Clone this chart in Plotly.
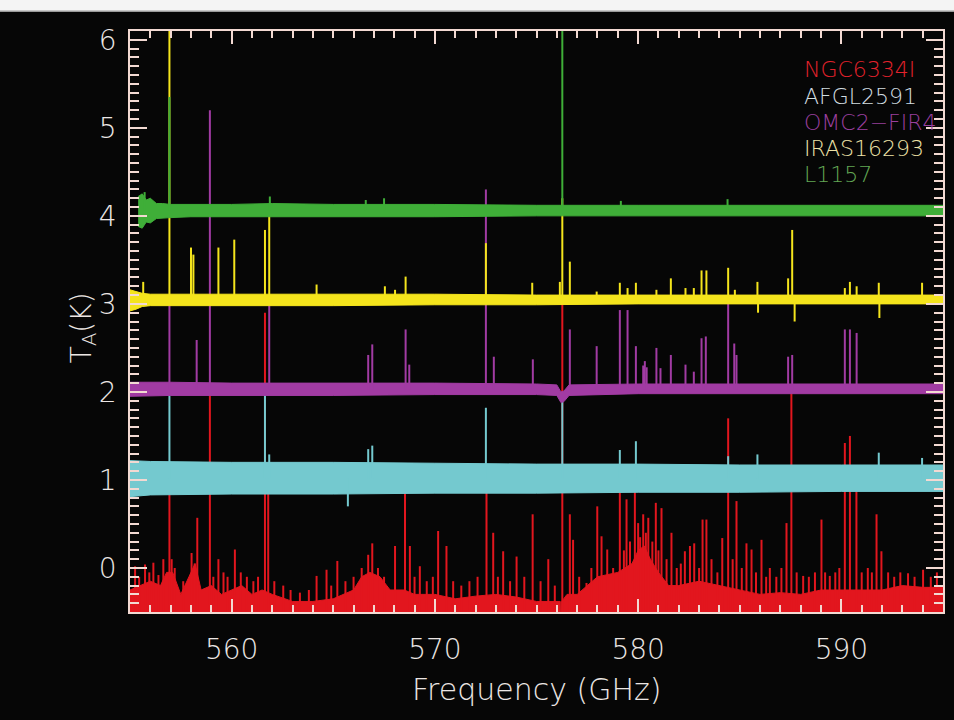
import plotly.graph_objects as go

# ---------------- spectra: baselines (noise envelopes) and lines ----------------
# L1157 (offset 4 K)
l1157_f = [555.4, 555.6, 555.8, 556.0, 556.3, 556.6, 557.0, 558, 560, 562, 565, 570, 575, 580, 585, 590, 595]
l1157_hi = [4.22, 4.25, 4.18, 4.20, 4.14, 4.14, 4.13, 4.13, 4.13, 4.14, 4.13, 4.13, 4.12, 4.12, 4.12, 4.12, 4.12]
l1157_lo = [3.88, 3.86, 3.93, 3.92, 3.97, 3.97, 3.98, 3.99, 3.99, 3.99, 3.99, 3.99, 4.00, 4.00, 4.00, 4.00, 4.00]
l1157_line_f = [555.72, 556.94, 561.88, 566.60, 567.50, 576.27, 579.15, 584.40]
l1157_line_t = [4.27, 5.35, 4.22, 4.18, 4.20, 6.40, 4.17, 4.19]

# IRAS16293 (offset 3 K)
iras_f = [555.0, 555.3, 555.6, 556.0, 557, 560, 565, 570, 575, 580, 585, 590, 595]
iras_hi = [3.16, 3.14, 3.12, 3.11, 3.11, 3.11, 3.11, 3.11, 3.10, 3.10, 3.10, 3.10, 3.10]
iras_lo = [2.92, 2.94, 2.97, 2.98, 2.98, 2.98, 2.98, 2.99, 2.99, 3.00, 3.00, 3.00, 3.00]
iras_line_f = [555.65, 556.94, 558.00, 558.12, 559.35, 560.13, 561.64, 561.85, 564.18, 567.54,
               568.04, 568.56, 572.51, 574.79, 576.15, 576.27, 576.64, 577.96, 579.10, 579.48,
               579.89, 580.90, 581.61, 582.33, 582.74, 583.12, 583.36, 584.43, 584.76, 585.87,
               585.90, 587.38, 587.58, 587.70, 590.17, 590.42, 590.75, 591.84, 591.87, 593.97]
iras_line_t = [3.25, 6.60, 3.64, 3.56, 3.64, 3.73, 3.84, 4.00, 3.22, 3.20,
               3.16, 3.31, 3.69, 3.24, 3.25, 4.20, 3.48, 3.14, 3.24, 3.18,
               3.24, 3.16, 3.29, 3.18, 3.18, 3.38, 3.38, 3.41, 3.16, 3.25,
               2.90, 3.29, 3.84, 2.80, 3.18, 3.25, 3.20, 3.24, 2.84, 3.24]

# OMC2-FIR4 (offset 2 K)
omc2_f = [555, 557, 560, 565, 570, 575, 576.0, 576.2, 576.35, 576.6, 580, 585, 590, 595]
omc2_hi = [2.11, 2.11, 2.10, 2.10, 2.10, 2.09, 2.08, 2.00, 2.01, 2.08, 2.09, 2.09, 2.09, 2.09]
omc2_lo = [1.95, 1.96, 1.96, 1.96, 1.97, 1.97, 1.96, 1.88, 1.89, 1.96, 1.98, 1.98, 1.98, 1.98]
omc2_line_f = [556.94, 558.28, 558.93, 561.85, 566.72, 566.92, 568.56, 568.74, 572.51, 572.90,
               574.82, 576.64, 577.96, 579.10, 579.48, 579.89, 580.25, 580.33, 580.42, 580.90,
               581.10, 581.61, 582.33, 582.74, 583.12, 583.33, 584.43, 584.73, 584.84, 587.38,
               587.58, 590.17, 590.42, 590.75]
omc2_line_t = [3.00, 2.59, 5.20, 3.00, 2.42, 2.54, 2.71, 2.31, 4.30, 2.40,
               2.37, 2.71, 2.52, 2.93, 2.93, 2.52, 2.30, 2.35, 2.28, 2.50,
               2.27, 2.42, 2.31, 2.23, 2.61, 2.63, 3.00, 2.55, 2.42, 2.40,
               2.42, 2.71, 2.71, 2.67]

# AFGL2591 (offset 1 K)
afgl_f = [555, 556, 560, 565, 570, 575, 580, 585, 590, 595]
afgl_hi = [1.22, 1.21, 1.20, 1.20, 1.19, 1.18, 1.18, 1.17, 1.17, 1.17]
afgl_lo = [0.81, 0.83, 0.84, 0.84, 0.85, 0.85, 0.86, 0.86, 0.87, 0.87]
afgl_line_f = [556.94, 561.64, 561.85, 565.72, 566.72, 566.92, 572.51, 576.27, 579.10, 579.89,
               584.43, 585.87, 591.84, 593.97]
afgl_line_t = [2.00, 2.00, 1.29, 0.70, 1.35, 1.39, 1.82, 2.00, 1.34, 1.44,
               1.27, 1.29, 1.31, 1.25]

# NGC6334I (offset 0 K): upper edge of the line-forest continuum
ngc_f = [555.0, 555.5, 556.0, 556.5, 556.8, 557.1, 557.5, 557.9, 558.2, 558.5, 559.0, 559.5, 560.0,
         560.5, 561.0, 561.5, 562.0, 563.0, 564.0, 565.0, 566.0, 566.4, 566.8, 567.3, 567.8, 568.5,
         569.0, 570.0, 571.0, 572.0, 573.0, 574.0, 575.0, 576.0, 576.17, 576.19, 576.22, 576.24,
         576.5, 577.0, 577.5, 578.0, 579.0, 579.7, 580.0, 580.3, 580.6, 581.0, 581.5, 582.0,
         583.0, 584.0, 585.0, 586.0, 587.0, 588.0, 589.0, 590.0, 591.0, 592.0, 593.0, 594.0, 595.0]
ngc_hi = [-0.25, -0.20, -0.15, -0.20, -0.05, -0.05, -0.30, -0.10, 0.05, -0.25, -0.20, -0.30, -0.25,
          -0.20, -0.30, -0.25, -0.30, -0.38, -0.38, -0.35, -0.25, -0.10, -0.05, -0.10, -0.25, -0.25,
          -0.30, -0.30, -0.35, -0.32, -0.30, -0.33, -0.38, -0.38, -0.38, -0.70, -0.70, -0.38,
          -0.30, -0.30, -0.20, -0.10, -0.05, 0.05, 0.20, 0.25, 0.10, -0.05, -0.20, -0.20,
          -0.15, -0.20, -0.25, -0.30, -0.28, -0.30, -0.25, -0.25, -0.25, -0.25, -0.20, -0.22, -0.22]
ngc_line_f = [555.25, 555.45, 555.74, 555.95, 556.15, 556.40, 556.64, 556.94, 557.05, 557.20,
              557.62, 558.03, 558.18, 558.31, 558.93, 559.10, 559.35, 559.60, 559.80, 560.16,
              560.45, 560.75, 561.07, 561.30, 561.64, 561.80, 562.10, 562.54, 562.90, 563.36,
              563.80, 564.18, 564.67, 564.90, 565.20, 565.60, 566.00, 566.40, 566.72, 566.92,
              567.20, 567.50, 568.04, 568.53, 568.77, 569.00, 569.26, 569.60, 569.90, 570.16,
              570.57, 570.90, 571.30, 571.70, 572.10, 572.54, 572.87, 573.10, 573.36, 573.70,
              574.02, 574.40, 574.81, 575.20, 575.58, 575.90, 576.27, 576.64, 576.80, 577.10,
              577.46, 577.70, 577.99, 578.20, 578.48, 578.77, 579.10, 579.30, 579.43, 579.60,
              579.84, 580.00, 580.10, 580.25, 580.38, 580.50, 580.70, 580.87, 581.00, 581.15,
              581.40, 581.64, 581.90, 582.10, 582.30, 582.55, 582.76, 583.00, 583.17, 583.36,
              583.61, 583.90, 584.14, 584.43, 584.65, 584.84, 585.10, 585.33, 585.58, 585.80,
              586.07, 586.30, 586.48, 586.80, 587.05, 587.30, 587.54, 587.80, 588.12, 588.40,
              588.70, 589.02, 589.20, 589.43, 589.70, 589.90, 590.17, 590.42, 590.74, 591.00,
              591.30, 591.50, 591.73, 591.97, 592.30, 592.60, 592.90, 593.28, 593.60, 594.02,
              594.40, 594.70]
ngc_line_t = [0.02, -0.10, 0.04, -0.05, 0.06, -0.08, 0.10, 1.00, 0.10, 0.00,
              -0.15, 0.17, 0.05, 0.57, 2.10, -0.10, 0.10, -0.05, -0.10, 0.21,
              -0.05, -0.10, -0.15, -0.10, 2.90, 1.10, -0.15, -0.20, -0.25, -0.28,
              -0.25, -0.09, -0.02, -0.20, 0.08, -0.15, -0.10, 0.00, 0.15, 0.28,
              0.00, -0.10, 0.25, 1.05, 0.25, -0.10, 0.02, -0.15, -0.10, 0.42,
              0.25, -0.15, -0.20, -0.15, -0.10, 1.10, 0.40, -0.10, 0.19, -0.15,
              0.13, -0.10, 0.61, -0.15, 0.10, -0.20, 3.00, 0.61, 0.32, -0.10,
              -0.17, 0.00, 0.70, 0.36, 0.21, 0.00, 0.93, 0.20, 0.78, 0.30,
              0.93, 0.51, 0.35, 0.61, 0.40, 0.57, 0.30, 0.74, 0.20, 0.68,
              0.10, 0.40, 0.00, 0.05, 0.19, 0.25, 0.28, 0.00, 0.55, 0.55,
              0.10, -0.05, 0.34, 1.70, 0.10, 0.76, 0.00, 0.28, 0.21, -0.05,
              0.32, -0.10, 0.00, -0.10, 0.00, 0.51, 2.00, -0.05, -0.09, -0.10,
              -0.05, 0.55, -0.05, -0.09, -0.05, 0.00, 1.42, 1.50, 1.00, -0.05,
              0.00, -0.05, 0.61, 0.19, -0.05, -0.10, -0.05, -0.06, -0.10, -0.02,
              -0.10, -0.05]

# source name, colour of the spectrum, colour of the label
sources = ["NGC6334I", "AFGL2591", "OMC2\u2212FIR4", "IRAS16293", "L1157"]
spec_colors = ["#e2161e", "#74c9cf", "#a13ba3", "#f4e41c", "#3fae38"]
label_colors = ["#e3222c", "#d2dde0", "#9a3f9e", "#eee2a8", "#62a654"]

X_RANGE = [555, 595]
Y_RANGE = [-0.5, 6.1]

AXIS_COLOR = "#f2d9d2"
TEXT_COLOR = "#ece6e4"
FONT = "DejaVu Sans"

fig = go.Figure()


def band(f, lo, hi, color):
    """Filled noise envelope between two baselines."""
    fig.add_trace(go.Scatter(
        x=list(f) + list(f)[::-1], y=list(hi) + list(lo)[::-1],
        mode="lines", fill="toself", fillcolor=color,
        line=dict(color=color, width=1), hoverinfo="skip", showlegend=False))


def lines(f, t, base, color, width=2):
    """Spectral lines drawn as vertical strokes rising from the baseline."""
    xs, ys = [], []
    for fi, ti in zip(f, t):
        xs += [fi, fi, None]
        ys += [base, ti, None]
    fig.add_trace(go.Scatter(x=xs, y=ys, mode="lines",
                             line=dict(color=color, width=width),
                             hoverinfo="skip", showlegend=False))


# NGC6334I: filled from below the axis up to its forest envelope
band(ngc_f, [-0.8] * len(ngc_f), ngc_hi, spec_colors[0])
lines(ngc_line_f, ngc_line_t, -0.8, spec_colors[0])
band(afgl_f, afgl_lo, afgl_hi, spec_colors[1])
lines(afgl_line_f, afgl_line_t, 1.02, spec_colors[1])
band(omc2_f, omc2_lo, omc2_hi, spec_colors[2])
lines(omc2_line_f, omc2_line_t, 2.03, spec_colors[2])
band(iras_f, iras_lo, iras_hi, spec_colors[3])
lines(iras_line_f, iras_line_t, 3.05, spec_colors[3])
band(l1157_f, l1157_lo, l1157_hi, spec_colors[4])
lines(l1157_line_f, l1157_line_t, 4.06, spec_colors[4])

# empty trace so the mirrored top/right axes carry their own minor ticks
fig.add_trace(go.Scatter(x=[None], y=[None], xaxis="x2", yaxis="y2",
                         mode="lines", hoverinfo="skip", showlegend=False))

# source labels, stacked in the upper right
for i, (name, col) in enumerate(zip(sources, label_colors)):
    fig.add_annotation(
        x=0.826, y=0.933 - i * 0.0452, xref="paper", yref="paper",
        text=name, showarrow=False, xanchor="left", yanchor="middle",
        font=dict(family=FONT, size=22, color=col, weight=200))

# axis titles
fig.add_annotation(x=0.5, y=-0.134, xref="paper", yref="paper",
                   text="Frequency (GHz)", showarrow=False,
                   xanchor="center", yanchor="middle",
                   font=dict(family=FONT, size=30, color=TEXT_COLOR, weight=200))
fig.add_annotation(x=-0.058, y=0.49, xref="paper", yref="paper",
                   text="T<sub>A</sub>(K)", showarrow=False, textangle=-90,
                   xanchor="center", yanchor="middle",
                   font=dict(family=FONT, size=28, color=TEXT_COLOR, weight=200))

# light strip along the top edge of the page
fig.add_shape(type="rect", xref="paper", yref="paper",
              x0=-0.2, x1=1.05, y0=1.034, y1=1.06,
              fillcolor="#f4f4f4", line=dict(width=0), layer="above")
fig.add_shape(type="line", xref="paper", yref="paper",
              x0=-0.2, x1=1.05, y0=1.034, y1=1.034,
              line=dict(color="#9a9a9a", width=1.5), layer="above")

tick_style = dict(
    ticks="inside", tickcolor=AXIS_COLOR, tickwidth=1.5,
    showgrid=False, zeroline=False,
)
label_font = dict(family=FONT, size=28, color=TEXT_COLOR, weight=200)

x_ticks = dict(range=X_RANGE, dtick=10, tick0=0, ticklen=13,
               minor=dict(dtick=1, ticklen=7, ticks="inside",
                          tickcolor=AXIS_COLOR, tickwidth=1.5, showgrid=False),
               **tick_style)
y_ticks = dict(range=Y_RANGE, dtick=1, tick0=0, ticklen=17,
               minor=dict(dtick=0.1, ticklen=9, ticks="inside",
                          tickcolor=AXIS_COLOR, tickwidth=1.5, showgrid=False),
               **tick_style)

fig.update_layout(
    width=954, height=720,
    margin=dict(l=130, r=11, t=31, b=108),
    paper_bgcolor="#060606", plot_bgcolor="#060606",
    showlegend=False,
    xaxis=dict(showline=True, linecolor=AXIS_COLOR, linewidth=1.5,
               tickfont=label_font, ticklabelstandoff=12, **x_ticks),
    yaxis=dict(showline=True, linecolor=AXIS_COLOR, linewidth=1.5,
               tickfont=label_font, ticklabelstandoff=6, **y_ticks),
    xaxis2=dict(overlaying="x", side="top", anchor="y", showticklabels=False,
                showline=True, linecolor=AXIS_COLOR, linewidth=1.5, **x_ticks),
    yaxis2=dict(overlaying="y", side="right", anchor="x", showticklabels=False,
                showline=True, linecolor=AXIS_COLOR, linewidth=1.5, **y_ticks),
)

fig.write_html("out.html")
